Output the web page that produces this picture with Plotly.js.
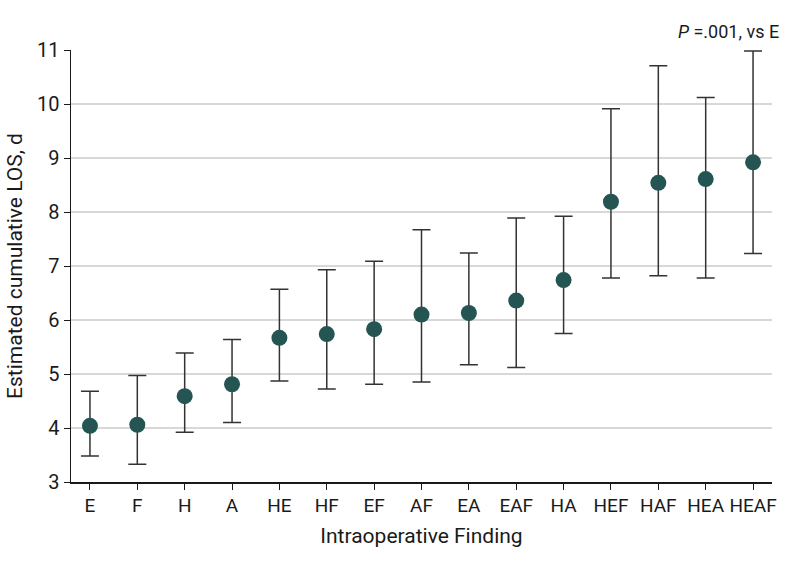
<!DOCTYPE html>
<html>
<head>
<meta charset="utf-8">
<script src="https://cdn.plot.ly/plotly-3.0.1.min.js"></script>
<style>
  body { margin: 0; background: #fff; }
  #graphique { width: 794px; height: 567px; }
</style>
</head>
<body>
<div id="graphique"></div>
<script>
// Données
let constatations = ["E", "F", "H", "A", "HE", "HF", "EF", "AF", "EA", "EAF", "HA", "HEF", "HAF", "HEA", "HEAF"];
let duree_estimee = [4.04, 4.06, 4.59, 4.81, 5.67, 5.74, 5.83, 6.10, 6.13, 6.36, 6.74, 8.19, 8.54, 8.61, 8.92];
let borne_basse = [3.48, 3.33, 3.92, 4.10, 4.87, 4.72, 4.81, 4.85, 5.17, 5.12, 5.75, 6.78, 6.82, 6.78, 7.23];
let borne_haute = [4.68, 4.97, 5.39, 5.64, 6.57, 6.93, 7.09, 7.67, 7.24, 7.89, 7.92, 9.91, 10.71, 10.12, 10.98];
let graduations_y = [3, 4, 5, 6, 7, 8, 9, 10, 11];

// Écarts pour les barres d'erreur
let ecart_haut = [];
let ecart_bas = [];
for (let i = 0; i < duree_estimee.length; i = i + 1) {
    ecart_haut.push(borne_haute[i] - duree_estimee[i]);
    ecart_bas.push(duree_estimee[i] - borne_basse[i]);
}

let police = "Roboto, sans-serif";

let donnee = [{
    x: constatations,
    y: duree_estimee,
    type: "scatter",
    mode: "markers",
    marker: {color: "#255553", size: 16},
    error_y: {
        type: "data",
        symmetric: false,
        array: ecart_haut,
        arrayminus: ecart_bas,
        color: "#333333",
        thickness: 1.5,
        width: 9
    },
    hoverinfo: "skip"
}];

let apparence = {
    width: 794,
    height: 567,
    margin: {l: 71, r: 22, t: 50, b: 85},
    paper_bgcolor: "#ffffff",
    plot_bgcolor: "#ffffff",
    showlegend: false,
    font: {family: police, size: 18, color: "#1a1a1a"},
    xaxis: {
        type: "category",
        range: [-0.4, 14.4],
        showgrid: false,
        showline: true,
        linecolor: "#1a1a1a",
        linewidth: 1.5,
        ticks: "outside",
        ticklen: 6,
        tickcolor: "#1a1a1a",
        tickfont: {family: police, size: 19, color: "#1a1a1a"},
        title: {text: "Intraoperative Finding", font: {family: police, size: 21, color: "#1a1a1a"}, standoff: 12},
        zeroline: false
    },
    yaxis: {
        range: [3, 11],
        tickvals: graduations_y,
        showgrid: true,
        gridcolor: "#d8d8d8",
        gridwidth: 1.5,
        showline: true,
        linecolor: "#1a1a1a",
        linewidth: 1.5,
        ticks: "outside",
        ticklen: 6,
        tickcolor: "#1a1a1a",
        tickfont: {family: police, size: 20, color: "#1a1a1a"},
        title: {text: "Estimated cumulative LOS, d", font: {family: police, size: 21, color: "#1a1a1a"}, standoff: 8},
        zeroline: false
    },
    annotations: [{
        text: "<i>P</i> =.001, vs E",
        xref: "paper",
        yref: "paper",
        x: 1,
        y: 1,
        xanchor: "right",
        yanchor: "bottom",
        xshift: 9,
        yshift: 6,
        showarrow: false,
        font: {family: police, size: 18, color: "#1a1a1a"}
    }]
};

Plotly.newPlot("graphique", donnee, apparence, {displayModeBar: false, staticPlot: true});
</script>
</body>
</html>
